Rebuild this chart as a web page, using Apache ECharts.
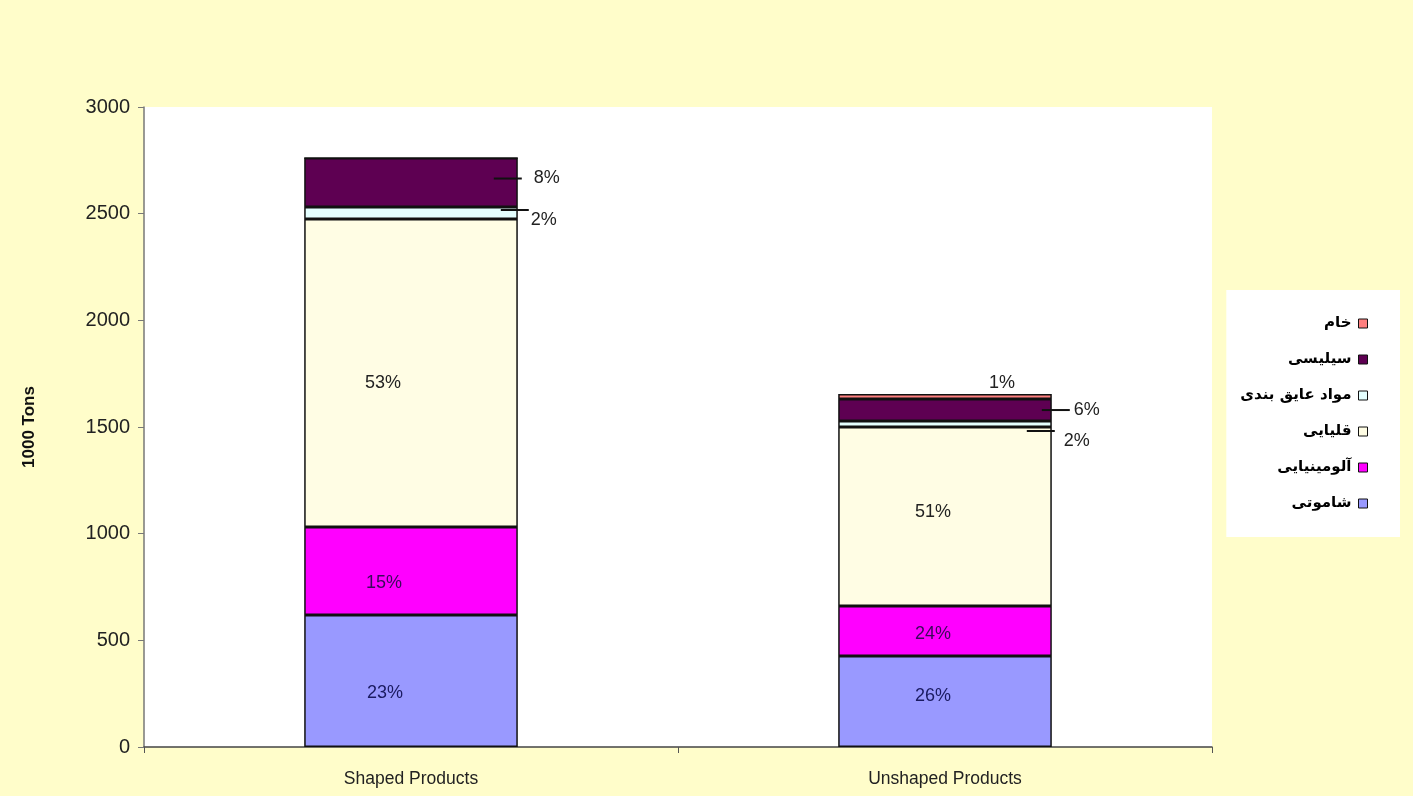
<!DOCTYPE html>
<html>
<head>
<meta charset="utf-8">
<script src="https://cdn.jsdelivr.net/npm/echarts@6/dist/echarts.min.js"></script>
<style>
  html, body { margin: 0; padding: 0; background: #FFFDCA; }
  #chart { width: 1413px; height: 796px; }
</style>
</head>
<body>
<div id="chart"></div>
<script>
const categories = ['Shaped Products', 'Unshaped Products'];

// stack order bottom -> top
const seriesNames = ['شاموتی', 'آلومینیایی', 'قلیایی', 'مواد عایق بندی', 'سیلیسی', 'خام'];
const shamotiValues = [619, 427];
const aluminousValues = [412, 234];
const alkalineValues = [1444, 839];
const insulationValues = [56, 28];
const silicaValues = [230, 103];
const rawValues = [0, 24];

const shamotiLabels = ['23%', '26%'];
const aluminousLabels = ['15%', '24%'];
const alkalineLabels = ['53%', '51%'];
const insulationLabels = ['2%', '2%'];
const silicaLabels = ['8%', '6%'];
const rawLabels = ['', '1%'];

const yTicks = [0, 500, 1000, 1500, 2000, 2500, 3000];

const colors = ['#9999FF', '#FF00FF', '#FFFDE4', '#E4FFFF', '#5E0052', '#FF8080'];
const values = [shamotiValues, aluminousValues, alkalineValues, insulationValues, silicaValues, rawValues];
const labels = [shamotiLabels, aluminousLabels, alkalineLabels, insulationLabels, silicaLabels, rawLabels];
const innerColors = ['#1a1a60', '#3a0a5a', '#222', '#222', '#222', '#222'];
const innerOffsets = [[[-26, 12], [-12, -5]], [[-27, 12], [-12, 3]], [[-28, 10], [-12, -4]]];

const font = 'Arial, "Liberation Sans", sans-serif';

function leaderRich(textPad) {
  return {
    ln: { width: 28, height: 2, backgroundColor: '#111' },
    t: { fontSize: 18, color: '#222', fontFamily: font, padding: [0, 0, 0, textPad] }
  };
}

// per-label placement for the small outside segments
function labelFor(si, di) {
  const txt = labels[si][di];
  if (!txt) return { show: false };
  if (si <= 2) {
    return {
      show: true, position: 'inside', formatter: txt, offset: innerOffsets[si][di],
      color: innerColors[si], fontSize: 18, fontFamily: font
    };
  }
  if (si === 5) {
    return {
      show: true, position: 'top', distance: 2, offset: [57, 0], formatter: txt,
      color: '#222', fontSize: 18, fontFamily: font
    };
  }
  if (si === 4) {
    return {
      show: true, position: 'right', distance: 0,
      offset: di === 0 ? [-24, -4] : [-10, 0],
      formatter: '{ln|}{t|' + txt + '}', rich: leaderRich(di === 0 ? 12 : 4)
    };
  }
  // insulation: leader line above, text below
  return {
    show: true, position: 'right', distance: 0,
    offset: di === 0 ? [-17, 6] : [-25, 16],
    formatter: '{ln|}\n{t|' + txt + '}', rich: leaderRich(di === 0 ? 30 : 37)
  };
}

const series = seriesNames.map((name, si) => ({
  name: name,
  type: 'bar',
  stack: 'total',
  barWidth: '40%',
  itemStyle: { color: colors[si], borderColor: '#111', borderWidth: 1.5 },
  data: values[si].map((v, di) => ({ value: v, label: labelFor(si, di) }))
}));

const chart = echarts.init(document.getElementById('chart'));
chart.setOption({
  backgroundColor: '#FFFDCA',
  animation: false,
  grid: {
    left: 144, right: 201, top: 107, bottom: 49,
    show: true, backgroundColor: '#fff', borderWidth: 0
  },
  legend: {
    orient: 'vertical',
    right: 13, top: 290,
    align: 'right',
    backgroundColor: '#fff',
    padding: [26, 32, 26, 14],
    itemGap: 21,
    itemWidth: 9, itemHeight: 9,
    icon: 'rect',
    itemStyle: { borderColor: '#111', borderWidth: 1 },
    data: seriesNames.slice().reverse(),
    textStyle: {
      fontFamily: '"DejaVu Sans", sans-serif', fontWeight: 'bold', fontSize: 15,
      color: '#000', padding: [0, 2, 0, 0]
    }
  },
  xAxis: {
    type: 'category',
    data: categories,
    axisLine: { lineStyle: { color: '#444', width: 1.5 } },
    axisTick: { show: true, length: 6, lineStyle: { color: '#555' } },
    axisLabel: { fontFamily: font, fontSize: 17.5, color: '#222', margin: 23 }
  },
  yAxis: {
    type: 'value',
    min: 0, max: 3000, interval: 500,
    name: '1000 Tons',
    nameLocation: 'middle',
    nameGap: 106,
    nameTextStyle: { fontFamily: font, fontSize: 17, fontWeight: 'bold', color: '#111' },
    axisLine: { show: true, lineStyle: { color: '#777', width: 1.5 } },
    axisTick: { show: true, length: 6, lineStyle: { color: '#777' } },
    splitLine: { show: false },
    axisLabel: {
      fontFamily: font, fontSize: 20, color: '#222', margin: 14,
      formatter: v => (yTicks.indexOf(v) >= 0 ? String(v) : '')
    }
  },
  series: series
});
</script>
</body>
</html>
